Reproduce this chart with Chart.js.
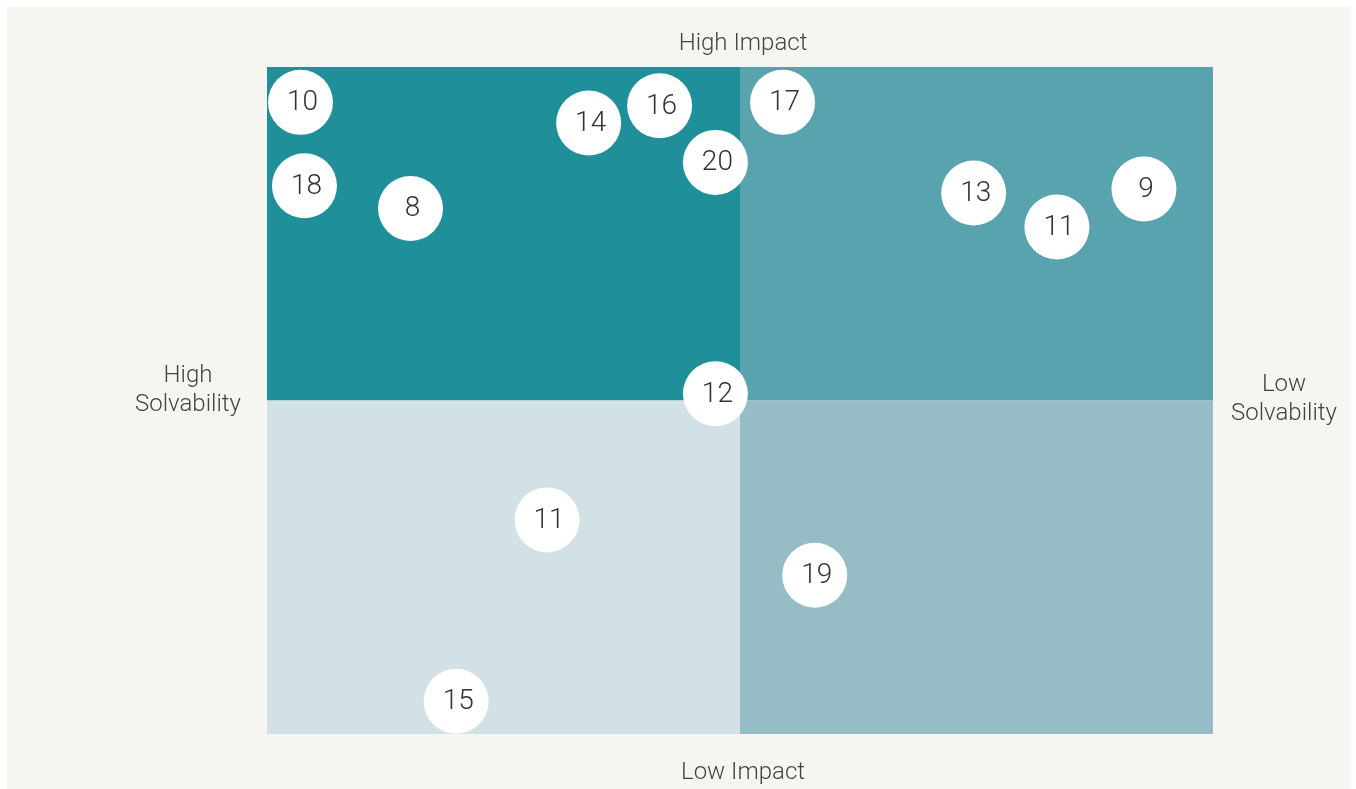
<!DOCTYPE html>
<html>
<head>
<meta charset="utf-8">
<script src="https://cdn.jsdelivr.net/npm/chart.js@4/dist/chart.umd.min.js"></script>
<style>
  html, body { margin: 0; padding: 0; background: #ffffff; }
  #wrap { position: absolute; left: 7px; top: 7px; width: 1344px; height: 782px; background: #f6f5f1; }
  canvas { display: block; }
</style>
</head>
<body>
<div id="wrap"><canvas id="c" width="1344" height="782"></canvas></div>
<script>
// Data
const pointLabels = ['10', '18', '8', '14', '16', '20', '17', '13', '11', '9', '12', '11', '19', '15'];
const impactX =     [0.354, 0.396, 1.517, 3.40, 4.15, 4.74, 5.45, 7.47, 8.35, 9.27, 4.74, 2.96, 5.79, 2.00];
const solvY =       [9.47, 8.22, 7.88, 9.16, 9.42, 8.57, 9.47, 8.11, 7.60, 8.17, 5.10, 3.21, 2.38, 0.49];
const axisLabels = { top: ['High Impact'], bottom: ['Low Impact'], left: ['High', 'Solvability'], right: ['Low', 'Solvability'] };
const quadrantColors = { tl: '#1f9099', tr: '#58a3ae', bl: '#d2e1e6', br: '#96bcc5' };

const NUM_FONT = 'Roboto, "Liberation Sans", sans-serif';
const LABEL_FONT = 'Roboto, "Liberation Sans", sans-serif';

const quadrantPlugin = {
  id: 'quadrants',
  beforeDatasetsDraw(chart) {
    const { ctx, scales: { x, y } } = chart;
    const x0 = x.getPixelForValue(0), x1 = x.getPixelForValue(5), x2 = x.getPixelForValue(10);
    const y0 = y.getPixelForValue(10), y1 = y.getPixelForValue(5), y2 = y.getPixelForValue(0);
    ctx.save();
    ctx.fillStyle = quadrantColors.tl; ctx.fillRect(x0, y0, x1 - x0, y1 - y0);
    ctx.fillStyle = quadrantColors.tr; ctx.fillRect(x1, y0, x2 - x1, y1 - y0);
    ctx.fillStyle = quadrantColors.bl; ctx.fillRect(x0, y1, x1 - x0, y2 - y1);
    ctx.fillStyle = quadrantColors.br; ctx.fillRect(x1, y1, x2 - x1, y2 - y1);
    ctx.restore();
  },
  afterDatasetsDraw(chart) {
    const { ctx, chartArea: a } = chart;
    const meta = chart.getDatasetMeta(0);
    ctx.save();
    ctx.fillStyle = '#333333';
    ctx.font = '300 28px ' + NUM_FONT;
    ctx.textAlign = 'center';
    ctx.textBaseline = 'middle';
    meta.data.forEach((pt, i) => {
      ctx.fillText(pointLabels[i], pt.x + 2, pt.y + 1);
    });
    ctx.fillStyle = '#444444';
    ctx.font = '300 24px ' + LABEL_FONT;
    const cx = (a.left + a.right) / 2;
    const cy = (a.top + a.bottom) / 2;
    axisLabels.top.forEach((t, i) => ctx.fillText(t, cx + 3, a.top - 23 + i * 29));
    axisLabels.bottom.forEach((t, i) => ctx.fillText(t, cx + 3, a.bottom + 39 + i * 29));
    axisLabels.left.forEach((t, i) => ctx.fillText(t, a.left - 79, cy - 25 + i * 29));
    axisLabels.right.forEach((t, i) => ctx.fillText(t, a.right + 71, cy - 16 + i * 29));
    ctx.restore();
  }
};

new Chart(document.getElementById('c'), {
  type: 'scatter',
  data: {
    datasets: [{
      data: impactX.map((v, i) => ({ x: v, y: solvY[i] })),
      pointRadius: 32.5,
      pointHoverRadius: 32.5,
      pointBackgroundColor: '#ffffff',
      pointBorderWidth: 0,
      borderWidth: 0
    }]
  },
  options: {
    responsive: false,
    animation: false,
    events: [],
    layout: { padding: { left: 260, top: 60, right: 138, bottom: 55 } },
    plugins: { legend: { display: false }, tooltip: { enabled: false } },
    scales: {
      x: { display: false, min: 0, max: 10 },
      y: { display: false, min: 0, max: 10 }
    }
  },
  plugins: [quadrantPlugin]
});
</script>
</body>
</html>
